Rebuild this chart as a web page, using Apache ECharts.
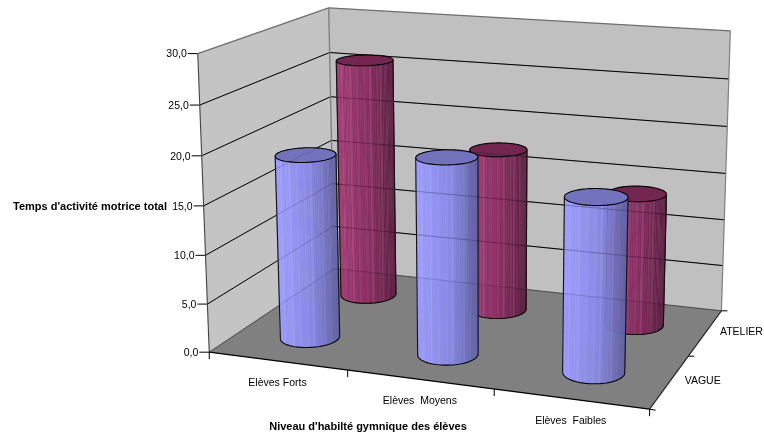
<!DOCTYPE html>
<html><head><meta charset="utf-8">
<style>html,body{margin:0;padding:0;background:#fff}#c{width:764px;height:437px}</style>
<script src="https://cdn.jsdelivr.net/npm/echarts@6/dist/echarts.min.js"></script>
</head><body><div id="c"></div>
<script>
const categories = ['Elèves Forts', 'Elèves  Moyens', 'Elèves  Faibles'];
const rows = ['VAGUE', 'ATELIER'];
const vague = [19, 20, 17.4];
const atelier = [25.9, 17.4, 14];
const yTicks = [0, 5, 10, 15, 20, 25, 30];
const yTickLabels = ['0,0', '5,0', '10,0', '15,0', '20,0', '25,0', '30,0'];
const yMax = 30;
const yTitle = "Temps d'activité motrice total";
const xTitle = "Niveau d'habilté gymnique des élèves";

// camera calibration: [x along categories, value share, depth] -> screen
const camera = [
 [0,0,0,210,351],[1,0,0,649,410],[0,1,0,197,54],[0,1,1,329,8],[1,1,1,731,31],[1,0,1,722,309],[0,0,1,333,271],
 [0,5/6,0,199,105.5],[0,4/6,0,202,156],[0,.5,0,204,205],[0,1/3,0,206,255],[0,1/6,0,207.5,304],
 [0,5/6,1,329.5,52],[0,4/6,1,331,96],[0,.5,1,332,140],
 [1,5/6,1,729,79],[1,4/6,1,727,127],[1,.5,1,725,174],[1,1/3,1,723.5,220],[1,1/6,1,722.5,265],
 [1/3,0,0,347,370],[2/3,0,0,494,390],[1,0,.5,690,356]
];
function fit(pts){
  const n=11, A=[...Array(n)].map(()=>Array(n+1).fill(0));
  const add=(r,b)=>{for(let i=0;i<n;i++){for(let j=0;j<n;j++)A[i][j]+=r[i]*r[j];A[i][n]+=r[i]*b;}};
  pts.forEach(([u,v,w,X,Y])=>{
    add([u,v,w,1,0,0,0,0,-X*u,-X*v,-X*w],X);
    add([0,0,0,0,u,v,w,1,-Y*u,-Y*v,-Y*w],Y);
  });
  for(let c=0;c<n;c++){
    let p=c;for(let r=c+1;r<n;r++)if(Math.abs(A[r][c])>Math.abs(A[p][c]))p=r;
    [A[c],A[p]]=[A[p],A[c]];
    for(let r=0;r<n;r++){if(r===c)continue;const f=A[r][c]/A[c][c];for(let k=c;k<=n;k++)A[r][k]-=f*A[c][k];}
  }
  return A.map((r,i)=>r[n]/r[i]);
}
const M=fit(camera);
function P(u,v,w){
  const d=M[8]*u+M[9]*v+M[10]*w+1;
  return [(M[0]*u+M[1]*v+M[2]*w+M[3])/d,(M[4]*u+M[5]*v+M[6]*w+M[7])/d];
}
const FONT='"Liberation Sans", Arial, sans-serif';
const poly=(pts,fill,extra)=>({type:'polygon',shape:{points:pts},style:Object.assign({fill:fill,stroke:null},extra||{})});
const line=(a,b,stroke,w,op)=>({type:'line',shape:{x1:a[0],y1:a[1],x2:b[0],y2:b[1]},style:{stroke:stroke,lineWidth:w,opacity:op==null?1:op}});
const txt=(s,x,y,align,bold,size)=>({type:'text',style:{text:s,x:x,y:y,textAlign:align,textVerticalAlign:'middle',fill:'#000',font:(bold?'bold ':'')+size+'px '+FONT}});

function scene(){
  const ch=[];
  const O=P(0,0,0),X=P(1,0,0),Y=P(0,1,0),Z=P(0,0,1),XZ=P(1,0,1),YZ=P(0,1,1),XYZ=P(1,1,1);
  ch.push(poly([O,Y,YZ,Z],'#C4C4C4'));
  ch.push(poly([Z,YZ,XYZ,XZ],'#C0C0C0'));
  ch.push(poly([O,X,XZ,Z],'#808080'));
  yTicks.forEach((t,i)=>{
    const s=t/yMax;
    if(i>0&&i<yTicks.length-1){
      ch.push(line(P(0,s,0),P(0,s,1),'#000',1));
      ch.push(line(P(0,s,1),P(1,s,1),'#000',1));
    }
    const a=P(0,s,0);
    ch.push(line([a[0]-10,a[1]],a,'#000',1));
    ch.push(txt(yTickLabels[i],a[0]-11,a[1]+1,'right',false,10.5));
  });
  ch.push(line(Y,YZ,'#6e6e6e',1.2));
  ch.push(line(YZ,XYZ,'#6e6e6e',1.2));
  ch.push(line(YZ,Z,'#808080',1.4));
  ch.push(line(XYZ,XZ,'#808080',1.2));
  ch.push(line(Y,O,'#444',1.1));
  ch.push(line(Z,XZ,'#555',1));
  ch.push(line(O,Z,'#555',1));
  ch.push(line(O,X,'#000',1.2));
  ch.push(line(X,XZ,'#222',1.1));
  for(let i=0;i<=categories.length;i++){
    const a=P(i/categories.length,0,0);
    ch.push(line(a,[a[0],a[1]+7],'#000',1));
  }
  categories.forEach((c,i)=>{
    const a=P((i+.5)/categories.length,0,0);
    ch.push(txt(c,a[0],a[1]+22,'center',false,10.5));
  });
  for(let i=0;i<=rows.length;i++){
    const a=P(1,0,i/rows.length);
    ch.push(line(a,[a[0]+6,a[1]+(i?0:1)],'#000',1));
  }
  rows.forEach((r,i)=>{
    const a=P(1,0,(i+.5)/rows.length);
    ch.push(txt(r,a[0]+33+i*3,a[1]-1,'center',false,10.5));
  });
  ch.push(txt(yTitle,13,207,'left',true,11));
  ch.push(txt(xTitle,368,427,'center',true,11));
  return {type:'group',children:ch};
}
function overlay(){
  const ch=[];
  yTicks.forEach((t,i)=>{
    const s=t/yMax;
    if(i>0&&i<yTicks.length-1){
      ch.push(line(P(0,s,1),P(1,s,1),'#000',1,.22));
      ch.push(line(P(0,s,0),P(0,s,1),'#000',1,.12));
    }
  });
  ch.push(line(P(0,0,1),P(1,0,1),'#000',1,.15));
  ch.push(line(P(0,0,0),P(0,0,1),'#000',1,.15));
  return {type:'group',children:ch};
}
const mix=(a,b,t)=>a.map((c,i)=>c+(b[i]-c)*t);
const rgb=c=>'rgb('+c.map(x=>Math.max(0,Math.min(255,Math.round(x)))).join(',')+')';
const RU=0.066,RW=0.105,N=96;
const stripe=[0,0,1,0,0,0,1,0,0,2,0,0,0,1,0,2,0];
function cylinder(cu,cw,top,pal,stripeAmp){
  const B=[],T=[];
  for(let i=0;i<N;i++){
    const t=i/N*2*Math.PI,u=cu+RU*Math.cos(t),w=cw+RW*Math.sin(t);
    B.push(P(u,0,w));T.push(P(u,top,w));
  }
  // the front arc is the part of the base ellipse below its left and right extremes
  let li=0,ri=0;
  B.forEach((p,i)=>{if(p[0]<B[li][0])li=i;if(p[0]>B[ri][0])ri=i;});
  const arcA=[],arcB=[];
  for(let i=li;i!==ri;i=(i+1)%N)arcA.push(i);
  for(let i=ri;i!==li;i=(i+1)%N)arcB.push(i);
  const avgY=a=>a.reduce((s,i)=>s+B[i][1],0)/a.length;
  const seq=avgY(arcA)>avgY(arcB)?arcA.concat([ri]):arcB.concat([li]);
  let minX=1e9,maxX=-1e9;
  T.forEach(p=>{minX=Math.min(minX,p[0]);maxX=Math.max(maxX,p[0]);});
  const ch=[];
  for(let k=0;k<seq.length-1;k++){
    const i=seq[k],j=seq[k+1];
    const s=((T[i][0]+T[j][0])/2-minX)/(maxX-minX);
    let col=s<.55?mix(pal[0],pal[1],s/.55):mix(pal[1],pal[2],(s-.55)/.45);
    const st=stripe[k%stripe.length]*stripeAmp;
    col=col.map(x=>x+st);
    const f=rgb(col);
    ch.push(poly([T[i],T[j],B[j],B[i]],f,{stroke:f,lineWidth:.4}));
  }
  ch.push({type:'polyline',shape:{points:seq.map(i=>B[i])},style:{stroke:'#000',lineWidth:1.1,fill:null}});
  ch.push(line(T[seq[0]],B[seq[0]],'#111',1.1));
  ch.push(line(T[seq[seq.length-1]],B[seq[seq.length-1]],'#111',1.1));
  ch.push(poly(T,pal[3],{stroke:'#000',lineWidth:1.1}));
  return {type:'group',children:ch};
}
const blue=[[156,156,255],[136,136,228],[96,96,160],'#7373BD'];
const red=[[158,56,112],[134,44,96],[88,28,62],'#732650'];
function cyl(row,pal,amp){
  return function(params,api){
    const cs=params.coordSys;
    const p=api.coord([api.value(0),api.value(1)]);
    const u=(p[0]-cs.x)/cs.width, v=(cs.y+cs.height-p[1])/cs.height;
    return cylinder(u,(row+.5)/rows.length,v,pal,amp);
  };
}
const base={type:'custom',clip:false,silent:true,animation:false,coordinateSystem:'cartesian2d'};
const toData=a=>a.map((v,i)=>[i,v]);
const chart=echarts.init(document.getElementById('c'),null,{renderer:'canvas'});
chart.setOption({
  animation:false,
  backgroundColor:'#fff',
  grid:{left:0,right:0,top:0,bottom:0},
  xAxis:{type:'category',data:categories,show:false},
  yAxis:{type:'value',min:0,max:yMax,interval:5,show:false},
  series:[
    Object.assign({},base,{name:'scene',z:1,data:[[0,0]],renderItem:scene}),
    Object.assign({},base,{name:rows[1],z:2,data:toData(atelier),renderItem:cyl(1,red,9)}),
    Object.assign({},base,{name:rows[0],z:3,data:toData(vague),renderItem:cyl(0,blue,5)}),
    Object.assign({},base,{name:'through',z:4,data:[[0,0]],renderItem:overlay})
  ]
});
</script></body></html>
